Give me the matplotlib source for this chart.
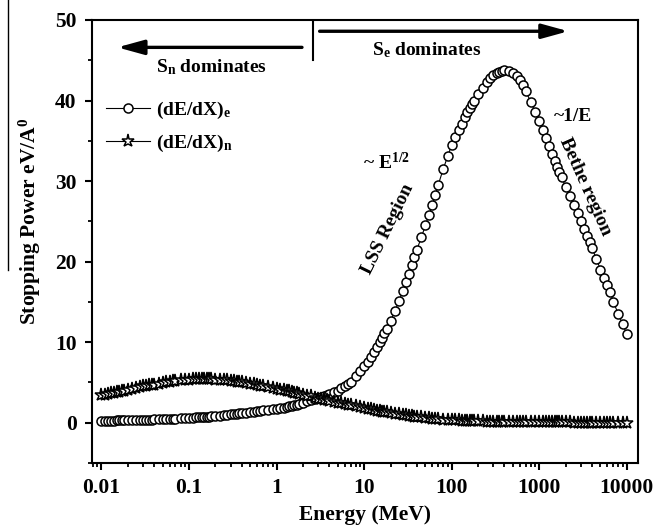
import numpy as np
import matplotlib
matplotlib.use('Agg')
import matplotlib.pyplot as plt
from matplotlib.ticker import MultipleLocator, LogLocator, FixedLocator, FixedFormatter
from matplotlib.lines import Line2D

plt.rcParams['font.family'] = ['Liberation Serif', 'DejaVu Serif']
plt.rcParams['font.weight'] = 'bold'
plt.rcParams['mathtext.fontset'] = 'custom'
plt.rcParams['mathtext.rm'] = 'Liberation Serif:bold'
plt.rcParams['mathtext.bf'] = 'Liberation Serif:bold'
plt.rcParams['mathtext.it'] = 'Liberation Serif:bold:italic'

# ---- data: energy grid (MeV) and stopping powers (eV/A) ----
energy = [
    0.010, 0.011, 0.012, 0.013, 0.014, 0.015, 0.016, 0.017, 0.018, 0.020, 0.0225, 0.025, 0.0275,
    0.030, 0.0325, 0.035, 0.0375, 0.040, 0.045, 0.050, 0.055, 0.060, 0.065, 0.070, 0.080, 0.090,
    0.10, 0.11, 0.12, 0.13, 0.14, 0.15, 0.16, 0.17, 0.18, 0.20, 0.225, 0.25, 0.275,
    0.30, 0.325, 0.35, 0.375, 0.40, 0.45, 0.50, 0.55, 0.60, 0.65, 0.70, 0.80, 0.90,
    1.0, 1.1, 1.2, 1.3, 1.4, 1.5, 1.6, 1.7, 1.8, 2.0, 2.25, 2.5, 2.75,
    3.0, 3.25, 3.5, 3.75, 4.0, 4.5, 5.0, 5.5, 6.0, 6.5, 7.0, 8.0, 9.0,
    10, 11, 12, 13, 14, 15, 16, 17, 18, 20, 22.5, 25, 27.5,
    30, 32.5, 35, 37.5, 40, 45, 50, 55, 60, 65, 70, 80, 90,
    100, 110, 120, 130, 140, 150, 160, 170, 180, 200, 225, 250, 275,
    300, 325, 350, 375, 400, 450, 500, 550, 600, 650, 700, 800, 900,
    1000, 1100, 1200, 1300, 1400, 1500, 1600, 1700, 1800, 2000, 2250, 2500, 2750,
    3000, 3250, 3500, 3750, 4000, 4500, 5000, 5500, 6000, 6500, 7000, 8000, 9000,
    10000,
]

se_vals = [
    0.25, 0.26, 0.26, 0.27, 0.27, 0.28, 0.28, 0.29, 0.29, 0.30, 0.32, 0.33, 0.35,
    0.36, 0.37, 0.38, 0.40, 0.41, 0.43, 0.45, 0.47, 0.49, 0.51, 0.52, 0.55, 0.58,
    0.60, 0.63, 0.65, 0.68, 0.70, 0.72, 0.75, 0.77, 0.79, 0.85, 0.89, 0.94, 1.00,
    1.05, 1.08, 1.12, 1.15, 1.18, 1.24, 1.30, 1.36, 1.42, 1.47, 1.52, 1.61, 1.68,
    1.75, 1.82, 1.89, 1.96, 2.03, 2.10, 2.18, 2.26, 2.34, 2.50, 2.66, 2.82, 2.96,
    3.10, 3.21, 3.32, 3.43, 3.55, 3.78, 4.00, 4.28, 4.55, 4.83, 5.10, 5.75, 6.38,
    7.0, 7.6, 8.2, 8.8, 9.4, 10.0, 10.5, 11.1, 11.6, 12.6, 13.9, 15.1, 16.3,
    17.5, 18.5, 19.6, 20.6, 21.5, 23.0, 24.5, 25.8, 27.0, 28.3, 29.5, 31.5, 33.1,
    34.5, 35.5, 36.3, 37.1, 37.9, 38.6, 39.1, 39.6, 40.0, 40.8, 41.6, 42.3, 42.8,
    43.2, 43.4, 43.6, 43.7, 43.8, 43.7, 43.4, 43.0, 42.5, 41.9, 41.2, 39.8, 38.6,
    37.5, 36.4, 35.4, 34.4, 33.4, 32.5, 31.8, 31.1, 30.5, 29.3, 28.1, 27.0, 26.0,
    25.0, 24.1, 23.2, 22.4, 21.7, 20.3, 19.0, 18.0, 17.1, 16.2, 15.0, 13.5, 12.2,
    11.0,
]

sn_vals = [
    3.40, 3.49, 3.57, 3.65, 3.73, 3.80, 3.86, 3.93, 3.98, 4.10, 4.20, 4.30, 4.40,
    4.50, 4.57, 4.63, 4.69, 4.74, 4.85, 4.95, 5.02, 5.09, 5.15, 5.20, 5.26, 5.31,
    5.35, 5.37, 5.38, 5.39, 5.40, 5.40, 5.40, 5.39, 5.38, 5.35, 5.32, 5.29, 5.25,
    5.20, 5.16, 5.11, 5.06, 5.01, 4.93, 4.85, 4.77, 4.69, 4.62, 4.55, 4.43, 4.31,
    4.20, 4.12, 4.05, 3.98, 3.91, 3.80, 3.74, 3.68, 3.62, 3.50, 3.38, 3.26, 3.13,
    3.00, 2.92, 2.85, 2.78, 2.72, 2.61, 2.50, 2.41, 2.32, 2.23, 2.15, 2.02, 1.91,
    1.80, 1.72, 1.65, 1.58, 1.51, 1.45, 1.39, 1.33, 1.28, 1.20, 1.12, 1.05, 0.97,
    0.90, 0.85, 0.80, 0.76, 0.72, 0.66, 0.60, 0.56, 0.52, 0.48, 0.45, 0.40, 0.36,
    0.32, 0.30, 0.28, 0.26, 0.24, 0.23, 0.22, 0.21, 0.20, 0.18, 0.16, 0.14, 0.13,
    0.12, 0.11, 0.10, 0.10, 0.09, 0.09, 0.08, 0.08, 0.07, 0.07, 0.07, 0.06, 0.06,
    0.05, 0.05, 0.05, 0.04, 0.04, 0.04, 0.04, 0.03, 0.03, 0.03, 0.03, 0.02, 0.02,
    0.02, 0.02, 0.02, 0.02, 0.01, 0.01, 0.01, 0.01, 0.01, 0.01, 0.01, 0.01, 0.01,
    0.01,
]

xtick_vals = [0.01, 0.1, 1, 10, 100, 1000, 10000]
xtick_labels = ['0.01', '0.1', '1', '10', '100', '1000', '10000']

fig = plt.figure(figsize=(6.54, 5.30), dpi=100)
ax = fig.add_axes([0.1407, 0.1264, 0.8348, 0.8359])

ax.plot(energy, se_vals, '-o', color='black', lw=0.8, ms=6.5, mfc='white', mec='black',
        mew=1.1, label='(dE/dX)$_\\mathrm{e}$')
ax.plot(energy, sn_vals, '-*', color='black', lw=0.8, ms=9.5, mfc='white', mec='black',
        mew=1.1, label='(dE/dX)$_\\mathrm{n}$')

ax.set_xscale('log')
ax.set_xlim(0.0078, 13400)
ax.set_ylim(-5, 50)

ax.xaxis.set_major_locator(FixedLocator(xtick_vals))
ax.xaxis.set_major_formatter(FixedFormatter(xtick_labels))
ax.xaxis.set_minor_locator(LogLocator(base=10, subs=np.arange(2, 10), numticks=20))
ax.yaxis.set_major_locator(MultipleLocator(10))
ax.yaxis.set_minor_locator(MultipleLocator(5))

ax.tick_params(which='major', direction='out', length=5, width=1.5, labelsize=15.5, pad=6)
ax.tick_params(which='minor', direction='out', length=3, width=1.3)
for s in ax.spines.values():
    s.set_linewidth(1.5)

ax.set_xlabel('Energy (MeV)', fontsize=15.5, fontweight='bold', labelpad=5)
ax.set_ylabel('Stopping Power eV/A$^\\mathrm{0}$', fontsize=15.5, fontweight='bold')
ax.yaxis.set_label_coords(-0.09, 0.545)

# line over the y label as in the original
fig.add_artist(Line2D([0.0125, 0.0125], [1.0, 0.49], transform=fig.transFigure,
                      color='black', lw=1.0))

leg = ax.legend(loc='upper left', bbox_to_anchor=(0.0, 0.85), frameon=False,
                fontsize=14, handlelength=2.3, handletextpad=0.3, labelspacing=0.6,
                numpoints=1, borderaxespad=0.3)

# region arrows and separator
ax.plot([2.58, 2.58], [45.0, 50], color='black', lw=1.5)
ax.annotate('', xy=(0.0152, 46.6), xytext=(1.95, 46.6),
            arrowprops=dict(arrowstyle='-|>,head_length=0.8,head_width=0.22',
                            lw=2.4, color='black', mutation_scale=20, shrinkA=0, shrinkB=0))
ax.annotate('', xy=(2150, 48.6), xytext=(3.1, 48.6),
            arrowprops=dict(arrowstyle='-|>,head_length=0.8,head_width=0.22',
                            lw=2.4, color='black', mutation_scale=20, shrinkA=0, shrinkB=0))

ax.text(0.18, 44.2, 'S$_\\mathrm{n}$ dominates', fontsize=14, fontweight='bold',
        ha='center', va='center')
ax.text(52, 46.2, 'S$_\\mathrm{e}$ dominates', fontsize=14, fontweight='bold',
        ha='center', va='center')

ax.text(9.6, 32.3, '~ E$^\\mathrm{1/2}$', fontsize=14, fontweight='bold', ha='left', va='center')
ax.text(18.5, 24.0, 'LSS Region', fontsize=14, fontweight='bold', rotation=64,
        ha='center', va='center', rotation_mode='anchor')
ax.text(1450, 38.0, '~1/E', fontsize=14, fontweight='bold', ha='left', va='center')
ax.text(3300, 29.3, 'Bethe region', fontsize=14, fontweight='bold', rotation=-66,
        ha='center', va='center', rotation_mode='anchor')

fig.savefig('out.png', dpi=100)
